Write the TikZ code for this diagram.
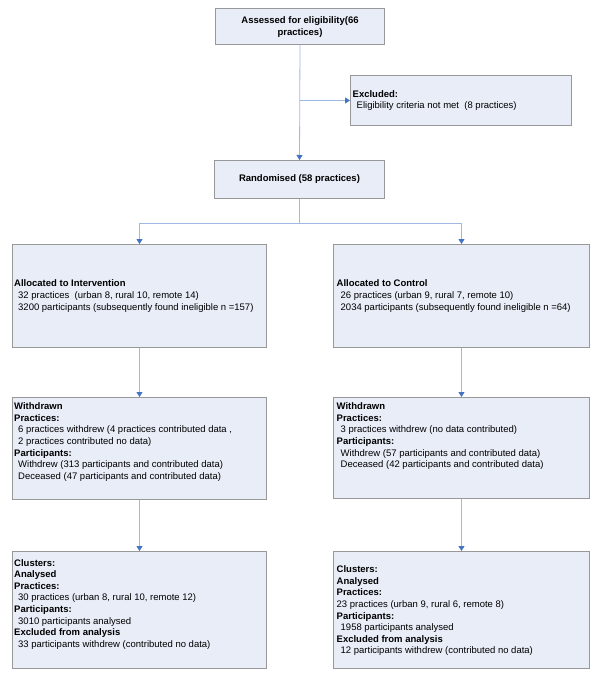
\documentclass[tikz,border=0pt]{standalone}
\usepackage{fontspec}
\setmainfont{Liberation Sans}
\usetikzlibrary{arrows.meta}
\usetikzlibrary{positioning}

\definecolor{boxfill}{RGB}{232,237,248}
\definecolor{boxline}{RGB}{152,152,152}
\definecolor{linkline}{RGB}{160,185,228}
\definecolor{tipblue}{RGB}{68,114,196}

\tikzset{
  flowbox/.style={draw=boxline, fill=boxfill, line width=1pt, inner sep=0, anchor=north west},
  boxtext/.style={align=left, inner sep=0, font=\fontsize{9.5}{11.6}\selectfont},
  headtext/.style={boxtext, align=center, font=\fontsize{9.5}{11.6}\selectfont\bfseries},
  link/.style={draw=linkline, line width=0.8pt, -{Triangle[width=6pt,length=5pt,color=tipblue]}},
}
\newcommand{\indt}{\hspace*{4pt}}

\begin{document}
\begin{tikzpicture}[x=1pt,y=-1pt]
\useasboundingbox (0,0) rectangle (600,680);

% boxes
\node[flowbox, minimum width=169pt, minimum height=36pt] (assess) at (215,8) {};
\node[flowbox, minimum width=221pt, minimum height=50pt] (excl) at (350,75) {};
\node[flowbox, minimum width=170pt, minimum height=38pt] (rand) at (214,160) {};
\node[flowbox, minimum width=254pt, minimum height=103pt] (allocI) at (12,244) {};
\node[flowbox, minimum width=256pt, minimum height=103pt] (allocC) at (333,244) {};
\node[flowbox, minimum width=254pt, minimum height=102pt] (wdI) at (12,397) {};
\node[flowbox, minimum width=256pt, minimum height=101pt] (wdC) at (333,397) {};
\node[flowbox, minimum width=254pt, minimum height=117pt] (anI) at (12,551) {};
\node[flowbox, minimum width=256pt, minimum height=117pt] (anC) at (333,551) {};

% texts
\node[headtext] (assesstxt) at ([yshift=-0.5pt]assess.center) {Assessed for eligibility(66\\practices)};
\node[boxtext, anchor=west, xshift=2.5pt] (excltxt) at (excl.west) {\textbf{Excluded:}\\
  \indt Eligibility criteria not met~ (8 practices)};
\node[headtext] (randtxt) at (rand.center) {Randomised (58 practices)};
\node[boxtext, anchor=west, xshift=2pt] (allocItxt) at (allocI.west) {\textbf{Allocated to Intervention}\\
  \indt 32 practices~ (urban 8, rural 10, remote 14)\\
  \indt 3200 participants (subsequently found ineligible n =157)};
\node[boxtext, anchor=west, xshift=3.5pt] (allocCtxt) at (allocC.west) {\textbf{Allocated to Control}\\
  \indt 26 practices (urban 9, rural 7, remote 10)\\
  \indt 2034 participants (subsequently found ineligible n =64)};
\node[boxtext, anchor=north west, xshift=2pt, yshift=-5.6pt] (wdItxt) at (wdI.north west) {\textbf{Withdrawn}\\
  \textbf{Practices:}\\
  \indt 6 practices withdrew (4 practices contributed data ,\\
  \indt 2 practices contributed no data)\\
  \textbf{Participants:}\\
  \indt Withdrew (313 participants and contributed data)\\
  \indt Deceased (47 participants and contributed data)};
\node[boxtext, anchor=north west, xshift=3.5pt, yshift=-5.6pt] (wdCtxt) at (wdC.north west) {\textbf{Withdrawn}\\
  \textbf{Practices:}\\
  \indt 3 practices withdrew (no data contributed)\\
  \textbf{Participants:}\\
  \indt Withdrew (57 participants and contributed data)\\
  \indt Deceased (42 participants and contributed data)};
\node[boxtext, anchor=north west, xshift=2pt, yshift=-8pt] (anItxt) at (anI.north west) {\textbf{Clusters:}\\
  \textbf{Analysed}\\
  \textbf{Practices:}\\
  \indt 30 practices (urban 8, rural 10, remote 12)\\
  \textbf{Participants:}\\
  \indt 3010 participants analysed\\
  \textbf{Excluded from analysis}\\
  \indt 33 participants withdrew (contributed no data)};
\node[boxtext, anchor=north west, xshift=3.5pt, yshift=-14.6pt] (anCtxt) at (anC.north west) {\textbf{Clusters:}\\
  \textbf{Analysed}\\
  \textbf{Practices:}\\
  23 practices (urban 9, rural 6, remote 8)\\
  \textbf{Participants:}\\
  \indt 1958 participants analysed\\
  \textbf{Excluded from analysis}\\
  \indt 12 participants withdrew (contributed no data)};

% connectors
\coordinate (branch) at (assess.south |- excl.west);
\coordinate (split) at (299.5,223);
\draw[link] (assess.south) -- (rand.north);
\draw[link] (branch) -- (excl.west);
\draw[draw=linkline, line width=0.8pt] (rand.south) -- (split);
\draw[link] (split) -| (allocI.north);
\draw[link] (split) -| (allocC.north);
\draw[link] (allocI.south) -- (wdI.north);
\draw[link] (allocC.south) -- (wdC.north);
\draw[link] (wdI.south) -- (anI.north);
\draw[link] (wdC.south) -- (anC.north);
\end{tikzpicture}
\end{document}
